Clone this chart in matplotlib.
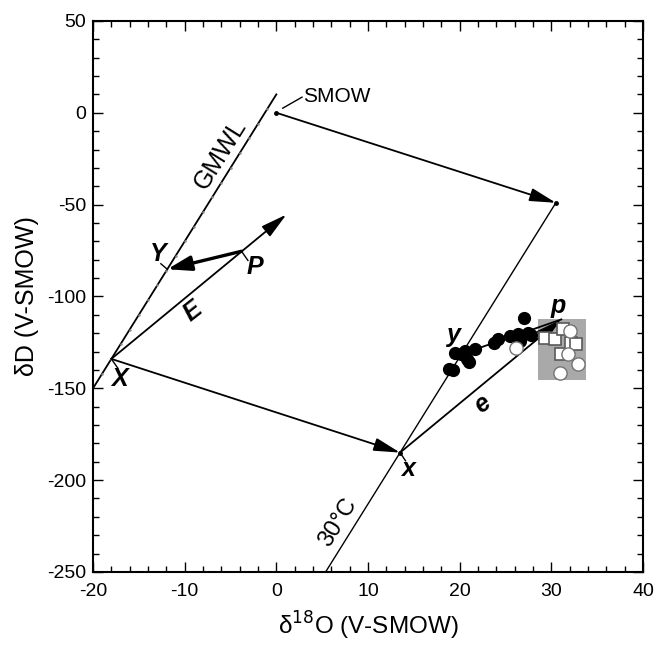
import numpy as np
import matplotlib.pyplot as plt
from matplotlib.ticker import MultipleLocator

plt.rcParams['font.family'] = ['Liberation Sans', 'DejaVu Sans']
plt.rcParams['axes.unicode_minus'] = False

# key isotope points (d18O, dD)
smow = (0.0, 0.0)
smow_evap = (30.5, -49.0)
X_pt = (-18.0, -134.0)
x_pt = (13.5, -185.0)
P_pt = (-3.8, -75.4)
E_end = (1.1, -55.4)
Y_pt = (-11.9, -85.2)
y_pt = (20.2, -131.4)
p_pt = (31.1, -112.5)

# lines: GMWL (dD = 8 d18O + 10) and 30 C equilibrium line (slope 8 through x)
gmwl_d18O = [-20.0, 0.0]
line30_d18O = [5.4, 30.5]

# measured samples
black_d18O = [18.8, 19.3, 19.5, 20.2, 20.6, 20.8, 21.0, 21.7, 23.8, 24.2, 25.5, 26.4, 26.6, 27.0, 27.5, 27.8]
black_dD = [-139.3, -139.8, -130.6, -131.5, -129.7, -134.0, -135.5, -128.8, -125.2, -123.4,
            -121.6, -120.7, -124.3, -111.6, -119.7, -121.0]
open_circ_d18O = [26.1, 32.0, 31.8, 32.9, 30.9]
open_circ_dD = [-127.9, -118.8, -131.5, -137.0, -141.5]
open_sq_d18O = [29.3, 30.4, 31.3, 31.1, 32.2, 32.7]
open_sq_dD = [-122.5, -123.4, -117.9, -131.5, -125.2, -126.1]
box_d18O = [28.6, 33.8]
box_dD = [-145.7, -112.4]

fig = plt.figure(figsize=(6.57, 6.46), dpi=100)
ax = fig.add_axes([0.1416, 0.1146, 0.837, 0.853])
ax.set_xlim(-20, 40)
ax.set_ylim(-250, 50)

lw = 1.3

# GMWL
gx = np.array(gmwl_d18O)
ax.plot(gx, 8 * gx + 10, color='k', lw=lw, zorder=3)
gt = np.arange(-19, 0, 1.0)
ax.plot(gt, 8 * gt + 10, ls='none', marker='o', ms=1.8, color='0.55', mec='none', zorder=4)

# 30 C line
lx = np.array(line30_d18O)
ax.plot(lx, x_pt[1] + 8 * (lx - x_pt[0]), color='k', lw=1.0, zorder=3)

# gray box behind the samples
ax.fill_between(box_d18O, box_dD[0], box_dD[1], color='#a9a9a9', lw=0, zorder=2)


def arrow(a, b, width=lw, hw=0.2, hl=0.8, ms=20):
    ax.annotate('', xy=b, xytext=a,
                arrowprops=dict(arrowstyle='-|>,head_length=%g,head_width=%g' % (hl, hw),
                                lw=width, color='k', shrinkA=0, shrinkB=0,
                                mutation_scale=ms), zorder=5)


arrow(smow, smow_evap)
arrow(X_pt, x_pt)
arrow(X_pt, E_end)
arrow(P_pt, Y_pt, width=2.4, hw=0.28, hl=0.9, ms=16)
arrow(x_pt, p_pt)
ax.plot([y_pt[0], p_pt[0]], [y_pt[1], p_pt[1]], color='k', lw=lw, zorder=5)

for pt in [smow, smow_evap, x_pt]:
    ax.plot(*pt, 'o', color='k', ms=2.5, zorder=6)

# small perpendicular ticks at points
def tick(pt, dx, dy):
    ax.plot([pt[0], pt[0] + dx], [pt[1], pt[1] + dy], color='k', lw=1.0, zorder=5)


tick(Y_pt, -0.7, 3.0)
tick(P_pt, 0.7, -5.0)
tick(X_pt, 0.7, -5.0)
tick(x_pt, 0.6, -4.5)
tick(y_pt, -0.6, 3.0)

# samples
ax.plot(black_d18O, black_dD, 'o', color='k', ms=8.5, zorder=6)
ax.plot(open_sq_d18O, open_sq_dD, 's', mfc='white', mec='0.35', mew=1.2, ms=8, zorder=7)
ax.plot(open_circ_d18O, open_circ_dD, 'o', mfc='white', mec='0.45', mew=1.0, ms=9.5, zorder=8)

# labels
bi = dict(fontsize=18, fontweight='bold', fontstyle='italic', zorder=9)
ax.text(-12.9, -77, 'Y', ha='center', va='center', **bi)
ax.text(-2.3, -84, 'P', ha='center', va='center', **bi)
ax.text(-9.1, -108, 'E', ha='center', va='center', rotation=38, **bi)
ax.text(-17.1, -145, 'X', ha='center', va='center', **bi)
ax.text(14.4, -194, 'x', ha='center', va='center', **bi)
ax.text(19.3, -121, 'y', ha='center', va='center', **bi)
ax.text(30.7, -105, 'p', ha='center', va='center', **bi)
ax.text(22.5, -158.5, 'e', ha='center', va='center', rotation=38, **bi)

ax.text(-6.1, -22.5, 'GMWL', fontsize=18, rotation=58, ha='center', va='center', zorder=9)
ax.text(6.7, -223, '30°C', fontsize=17, rotation=58, ha='center', va='center', zorder=9)
ax.plot([0.7, 2.8], [2.5, 8.5], color='k', lw=1.0)
ax.text(2.9, 9.0, 'SMOW', fontsize=15, ha='left', va='center')

# axes styling
ax.xaxis.set_major_locator(MultipleLocator(10))
ax.xaxis.set_minor_locator(MultipleLocator(2))
ax.yaxis.set_major_locator(MultipleLocator(50))
ax.yaxis.set_minor_locator(MultipleLocator(10))
ax.tick_params(which='both', direction='in', top=True, right=True, width=1.0, labelsize=14)
ax.tick_params(which='major', length=7.5)
ax.tick_params(which='minor', length=4.5)
ax.tick_params(axis='x', pad=8)
ax.tick_params(axis='y', pad=5)
for s in ax.spines.values():
    s.set_linewidth(1.5)

ax.set_xlabel('δ$^{18}$O (V-SMOW)', fontsize=17.5, labelpad=7)
ax.set_ylabel('δD (V-SMOW)', fontsize=18, labelpad=6)

fig.savefig('out.png', dpi=100)
